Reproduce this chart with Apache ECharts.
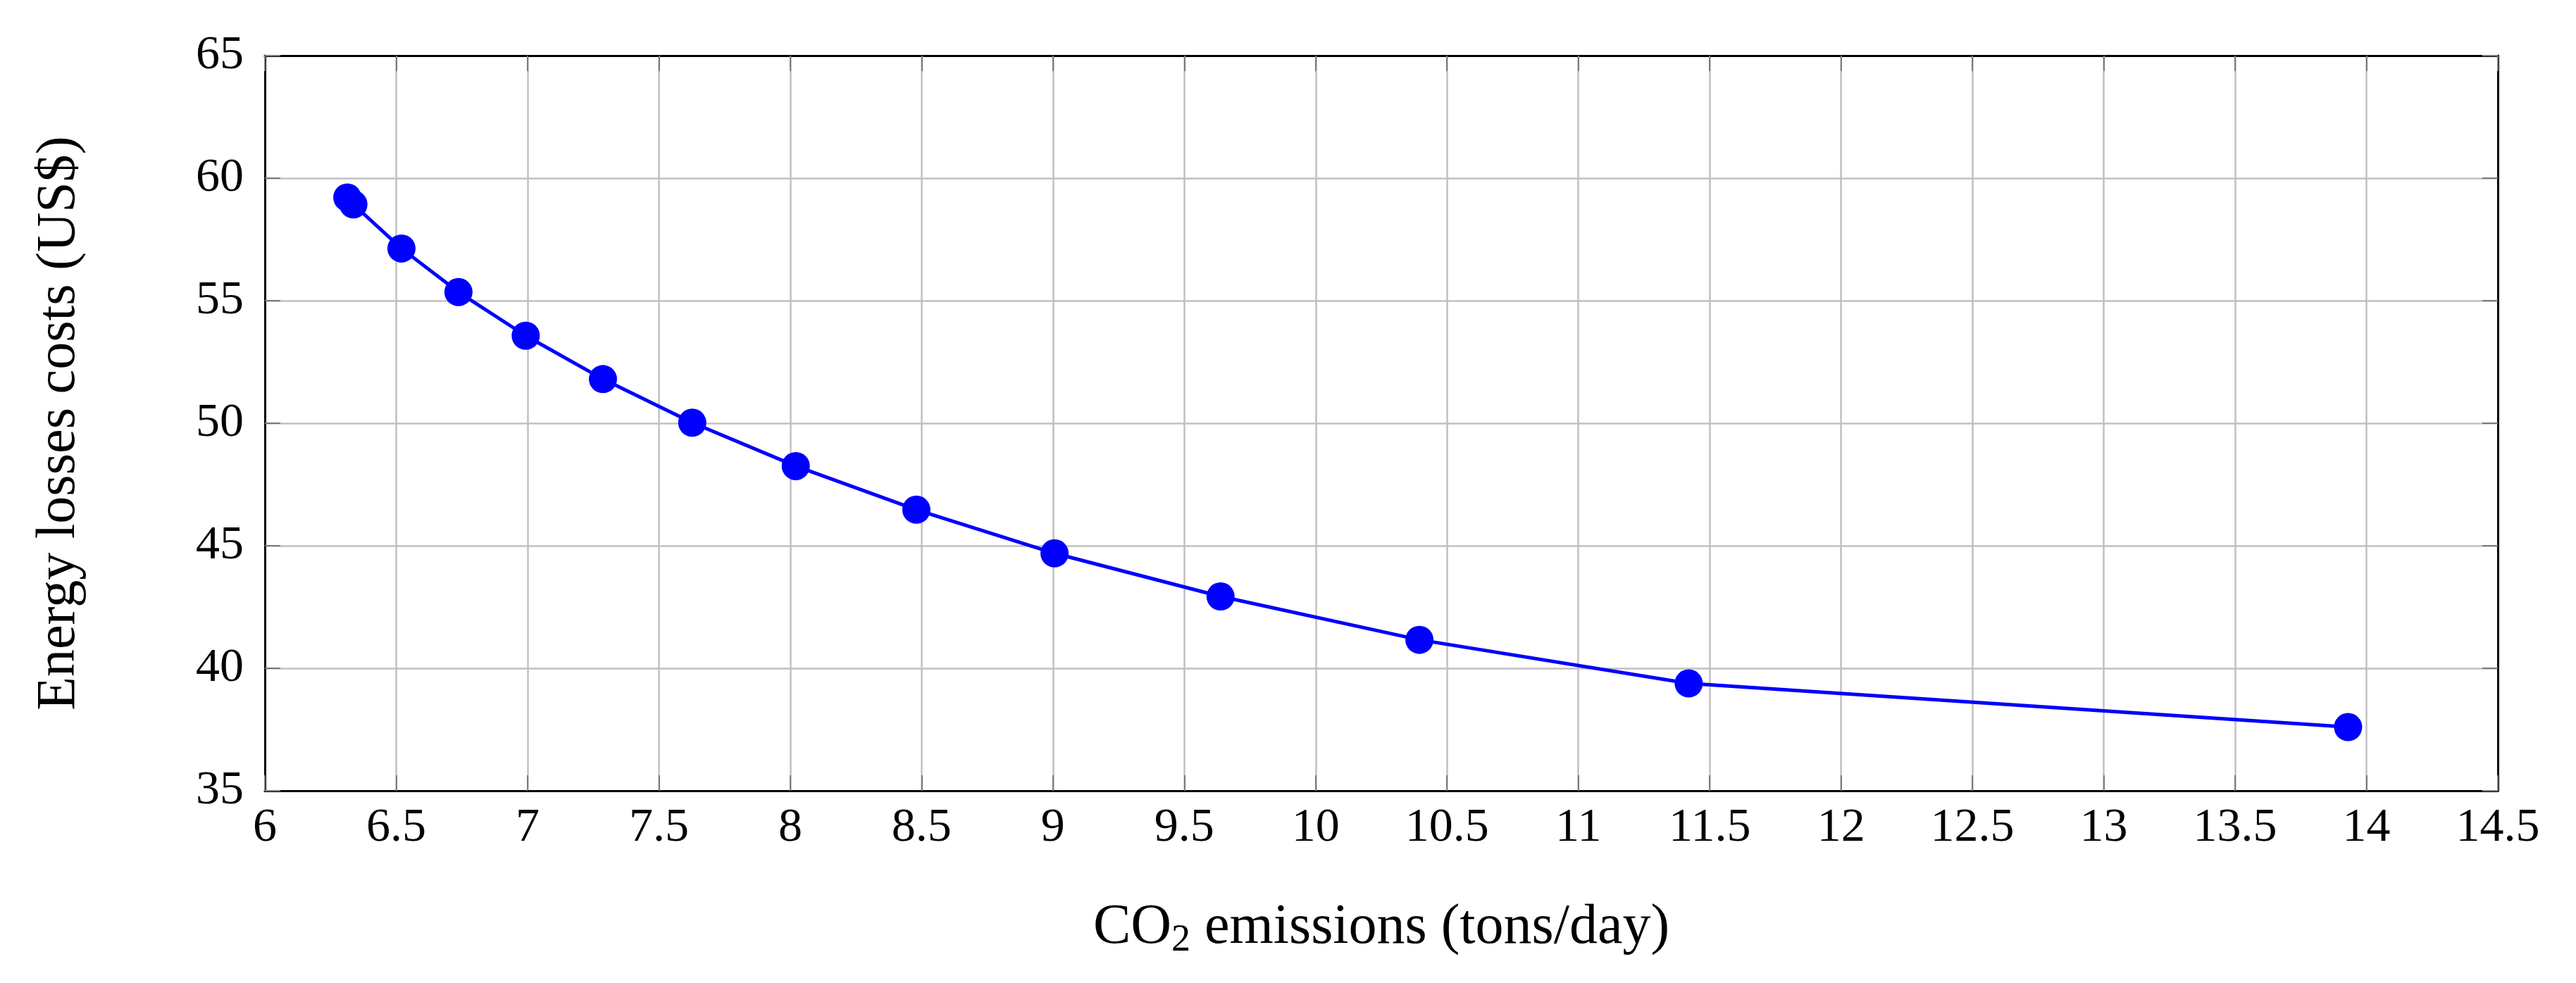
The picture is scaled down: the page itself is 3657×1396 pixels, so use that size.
<!DOCTYPE html>
<html>
<head>
<meta charset="utf-8">
<script src="https://cdn.jsdelivr.net/npm/echarts@6/dist/echarts.min.js"></script>
<style>
html,body{margin:0;padding:0;background:#fff;}
#chart{width:3657px;height:1396px;}
</style>
</head>
<body>
<div id="chart"></div>
<script>
// CO2 emissions (tons/day)
const co2Emissions = [6.314, 6.337, 6.52, 6.737, 6.993, 7.287, 7.627, 8.021, 8.48, 9.006, 9.638, 10.395, 11.42, 13.93];
// Energy losses costs (US$)
const lossCosts = [59.21, 58.93, 57.13, 55.35, 53.57, 51.80, 50.02, 48.25, 46.47, 44.69, 42.93, 41.16, 39.38, 37.60];

const xTicks = {min: 6, max: 14.5, step: 0.5};
const yTicks = {min: 35, max: 65, step: 5};
const xTitle = ['CO', '2', ' emissions (tons/day)'];
const yTitle = 'Energy losses costs (US$)';

const points = co2Emissions.map((x, i) => [x, lossCosts[i]]);
const FONT = '"Liberation Serif", "DejaVu Serif", serif';

const chart = echarts.init(document.getElementById('chart'), null, {renderer: 'canvas'});

const tickStyle = {show: true, inside: true, length: 22, lineStyle: {color: '#7a7a7a', width: 2}};
const frameLine = {show: true, onZero: false, lineStyle: {color: '#000', width: 3}};
const gridLine = {show: true, lineStyle: {color: '#c0c0c0', width: 2.5}};

chart.setOption({
  animation: false,
  backgroundColor: '#fff',
  grid: {left: 376, right: 111, top: 79, bottom: 273},
  xAxis: [
    {
      type: 'value', position: 'bottom',
      min: xTicks.min, max: xTicks.max, interval: xTicks.step,
      axisLine: frameLine, axisTick: tickStyle, splitLine: gridLine,
      axisLabel: {color: '#000', fontFamily: FONT, fontSize: 68, margin: 19},
      name: '{a|' + xTitle[0] + '}{s|' + xTitle[1] + '}{a|' + xTitle[2] + '}',
      nameLocation: 'middle', nameGap: 150,
      nameTextStyle: {
        rich: {
          a: {fontFamily: FONT, fontSize: 80, color: '#000', lineHeight: 90},
          s: {fontFamily: FONT, fontSize: 54, color: '#000', lineHeight: 44, verticalAlign: 'bottom'}
        }
      }
    },
    {
      type: 'value', position: 'top',
      min: xTicks.min, max: xTicks.max, interval: xTicks.step,
      axisLine: frameLine, axisTick: tickStyle, splitLine: {show: false},
      axisLabel: {show: false}
    }
  ],
  yAxis: [
    {
      type: 'value', position: 'left',
      min: yTicks.min, max: yTicks.max, interval: yTicks.step,
      axisLine: frameLine, axisTick: tickStyle, splitLine: gridLine,
      axisLabel: {color: '#000', fontFamily: FONT, fontSize: 68, margin: 30},
      name: yTitle, nameLocation: 'middle', nameRotate: 90, nameGap: 252,
      nameTextStyle: {fontFamily: FONT, fontSize: 78, color: '#000'}
    },
    {
      type: 'value', position: 'right',
      min: yTicks.min, max: yTicks.max, interval: yTicks.step,
      axisLine: frameLine, axisTick: tickStyle, splitLine: {show: false},
      axisLabel: {show: false}
    }
  ],
  series: [{
    type: 'line',
    data: points,
    xAxisIndex: 0, yAxisIndex: 0,
    symbol: 'circle', symbolSize: 40, showAllSymbol: true,
    lineStyle: {color: '#0000ff', width: 5},
    itemStyle: {color: '#0000ff'},
    z: 5
  }]
});
</script>
</body>
</html>
